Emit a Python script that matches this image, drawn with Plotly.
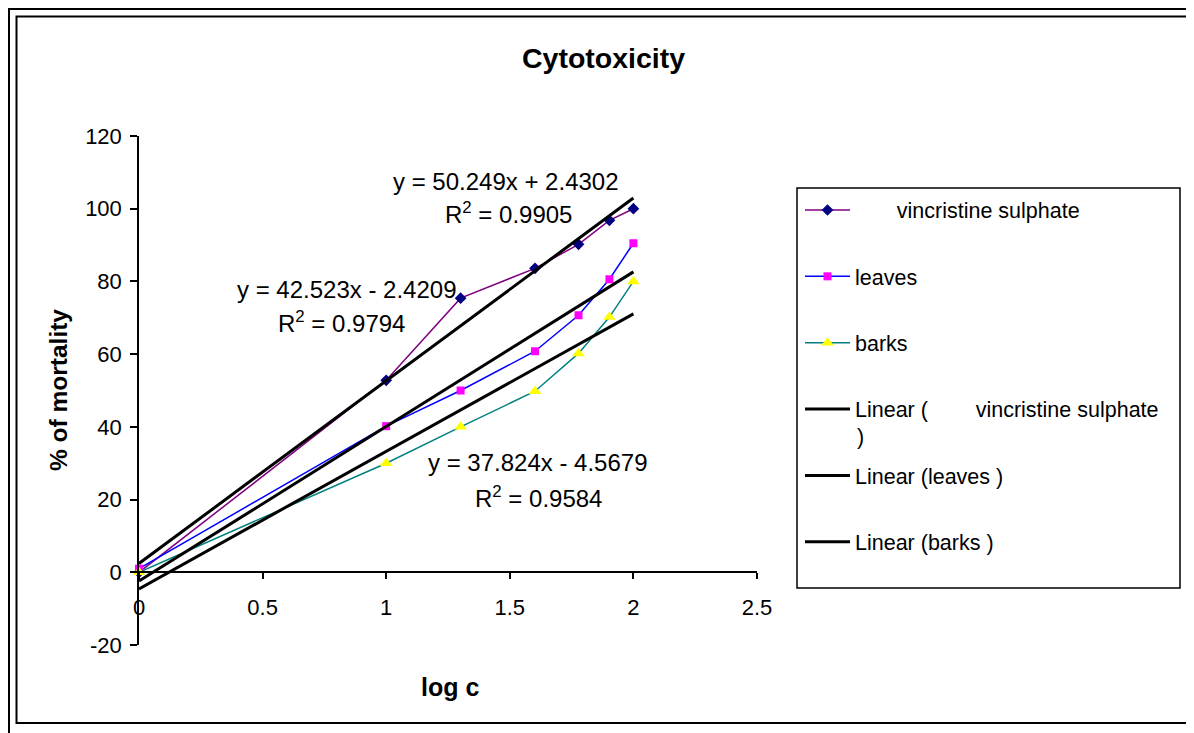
import plotly.graph_objects as go

# ---------------- data ----------------
log_c = [0, 1, 1.301, 1.602, 1.778, 1.903, 2]
vincristine = [0, 52.8, 75.4, 83.6, 90.2, 96.8, 100]
leaves = [1.0, 40.2, 50.0, 60.8, 70.7, 80.6, 90.5]
barks = [0, 30.0, 40.0, 49.8, 60.2, 70.2, 80.0]

series_names = ["\u00a0" * 7 + "vincristine sulphate", "leaves", "barks"]
trend_names = ["Linear (\u00a0" + "\u00a0" * 7 + "vincristine sulphate", "Linear (leaves )", "Linear (barks )"]
trend_slopes = [50.249, 42.523, 37.824]
trend_intercepts = [2.4302, -2.4209, -4.5679]
trend_r2 = [0.9905, 0.9794, 0.9584]
trend_x = [0, 2]

x_ticks = [0, 0.5, 1, 1.5, 2, 2.5]
x_tick_labels = ["0", "0.5", "1", "1.5", "2", "2.5"]
y_ticks = [-20, 0, 20, 40, 60, 80, 100, 120]
y_tick_labels = ["-20", "0", "20", "40", "60", "80", "100", "120"]

# ---------------- geometry (reference-pixel coordinates) ----------------
OFF = 8  # page body margin added by the browser
W, H = 1194 - OFF, 733 - OFF
L, R, T, B = 139, 757, 136, 645


def px(x):
    return (x - L) / (R - L)


def py(y):
    return (B - y) / (B - T)


FONT = "Liberation Sans, Arial, sans-serif"

fig = go.Figure()

styles = [
    dict(line=dict(color="#800080", width=1.5), marker=dict(symbol="diamond", color="#000080", size=9)),
    dict(line=dict(color="#0000FF", width=1.5), marker=dict(symbol="square", color="#FF00FF", size=8)),
    dict(line=dict(color="#008080", width=1.5), marker=dict(symbol="triangle-up", color="#FFFF00", size=11)),
]
for name, vals, st in zip(series_names, [vincristine, leaves, barks], styles):
    fig.add_trace(go.Scatter(x=log_c, y=vals, mode="lines+markers", name=name,
                             legendgroup=name, cliponaxis=False, **st))

for name, m, b in zip(trend_names, trend_slopes, trend_intercepts):
    fig.add_trace(go.Scatter(x=trend_x, y=[m * x + b for x in trend_x], mode="lines", name=name,
                             legendgroup=name, line=dict(color="black", width=3)))


def ann(x, y, text, size, **kw):
    d = dict(x=px(x), y=py(y), xref="paper", yref="paper", showarrow=False, text=text,
             xanchor="center", yanchor="middle", font=dict(size=size, family=FONT, color="black"))
    d.update(kw)
    return d


# equation annotations
eq_pos = [((506, 181), (508, 213)), ((347, 289), (341, 322)), ((538, 463), (538, 497))]
annotations = []
for (p1, p2), m, b, r2 in zip(eq_pos, trend_slopes, trend_intercepts, trend_r2):
    sign = "+" if b >= 0 else "-"
    annotations.append(ann(p1[0], p1[1], f"y = {m}x {sign} {abs(b):.4f}", 24))
    annotations.append(ann(p2[0], p2[1], f"R<sup>2</sup> = {r2:.4f}", 24))

annotations += [
    ann(603, 58, "<b>Cytotoxicity</b>", 28.5),
    ann(450, 687, "<b>log c</b>", 25),
    ann(58, 390, "<b>% of mortality</b>", 24.5, textangle=-90),
    ann(855, 437, ")", 21.5, xanchor="left"),
]

shapes = [
    dict(type="rect", xref="paper", yref="paper", x0=px(9), y0=py(9), x1=px(1215), y1=py(760),
         line=dict(color="black", width=2)),
    dict(type="rect", xref="paper", yref="paper", x0=px(16.5), y0=py(16.5), x1=px(1187), y1=py(723),
         line=dict(color="black", width=2)),
    dict(type="rect", xref="paper", yref="paper", x0=px(797), y0=py(188), x1=px(1180), y1=py(588),
         line=dict(color="black", width=1.5)),
]

fig.update_layout(
    width=W, height=H,
    margin=dict(l=L - OFF, r=W - (R - OFF), t=T - OFF, b=H - (B - OFF), pad=0),
    paper_bgcolor="white", plot_bgcolor="white",
    font=dict(family=FONT, size=21, color="black"),
    showlegend=True,
    legend=dict(x=px(800), y=py(189.5), xanchor="left", yanchor="top", bgcolor="rgba(0,0,0,0)",
                borderwidth=0, font=dict(size=21.5, family=FONT, color="black"),
                traceorder="grouped", tracegroupgap=35.4, itemwidth=45),
    annotations=annotations,
    shapes=shapes,
    xaxis=dict(range=[0, 2.5], tickvals=x_ticks, ticktext=x_tick_labels, showgrid=False, zeroline=False,
               showline=True, linecolor="black", linewidth=1.5, ticks="outside", ticklen=6,
               tickcolor="black", tickwidth=1.5, anchor="free", position=20 / 140,
               ticklabelstandoff=10, tickfont=dict(size=22, family=FONT, color="black")),
    yaxis=dict(range=[-20, 120], tickvals=y_ticks, ticktext=y_tick_labels, showgrid=False, zeroline=False,
               showline=True, linecolor="black", linewidth=1.5, ticks="outside", ticklen=7,
               tickcolor="black", tickwidth=1.5, ticklabelstandoff=4,
               tickfont=dict(size=22, family=FONT, color="black")),
)

fig.write_html("out.html")
